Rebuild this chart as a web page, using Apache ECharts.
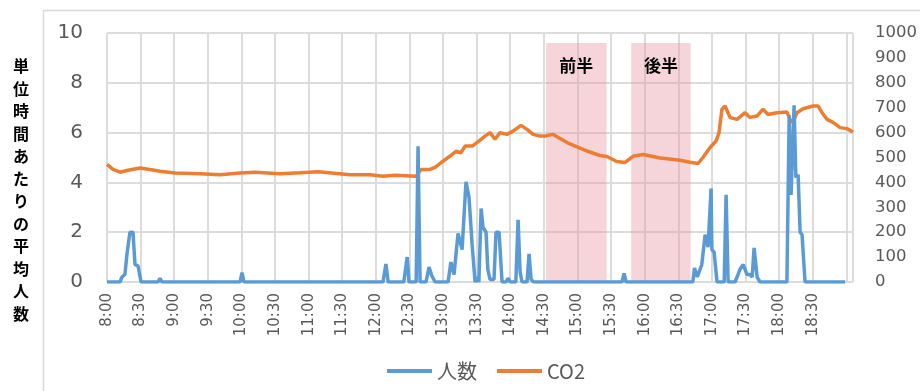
<!DOCTYPE html>
<html>
<head>
<meta charset="utf-8">
<script src="https://cdn.jsdelivr.net/npm/echarts@6/dist/echarts.min.js"></script>
<style>
html,body{margin:0;padding:0;background:#fff;}
#c{width:920px;height:391px;}
</style>
</head>
<body>
<div id="c"></div>
<script>
// Minutes after 8:00
const peopleTimes = [0,11.6,13.4,16,17.9,20.5,23.2,25,27.7,30.4,45.5,47.3,49,118.8,120.5,122.3,246.4,249,251,265,268,269.6,276,277.7,279.5,284.8,287.5,290,292.9,304.5,307,309.8,313.4,317,320.5,323.2,325.9,328.6,330.4,332,334,335.7,338.4,340,342,345.5,347.3,350,352.7,356.3,358,360,365,367,368.8,370.5,375,376.8,378.6,381,459.8,461.6,463.4,523,524.5,527,531,534,536.6,539.3,540,542,544.6,551,552.7,554.5,560.7,562.5,565,568,571.4,574,576,577.7,580.4,583,607,609,610.7,613.4,615,617,618.8,620.5,623.2,659];
const peopleValues = [0,0,0.2,0.3,1.15,2.0,2.0,0.7,0.65,0,0,0.15,0,0,0.38,0,0,0.72,0,0,1.0,0,0,5.45,0,0,0.6,0.25,0,0,0.8,0.3,1.95,1.3,4.02,3.4,1.55,0,0.2,0,2.95,2.2,2.0,0.5,0.1,0.1,2.0,2.0,0,0,0.15,0,0,2.5,0.4,0,0,1.13,0.1,0,0,0.35,0,0,0.56,0.2,0.7,1.9,1.4,3.75,1.3,1.2,0,0,3.5,0,0,0.2,0.5,0.7,0.3,0.3,0.2,1.37,0.2,0,0,6.7,3.5,7.1,4.2,4.3,2.0,1.9,0,0];
const co2Times = [0,5.4,11.6,18.8,29.5,38.4,47.3,60.7,83,100.9,118.8,132,154.5,172.3,188.4,217,234.8,246.4,257,276,280.4,288.4,292.9,300,306,311.6,316,319.7,326,332,337.5,342,346.4,350.9,357,362.5,369.6,375,380.4,386.6,391,398,410.7,428.6,440,446.4,455,462.5,469.6,478.6,493.8,511.6,520.5,527.7,532,538.4,543.8,546.4,549,551.8,556.3,562.5,569.6,574,580.4,585.7,590,598,607,609.8,612.5,616,621.4,630.4,634.8,638.4,642.9,648.2,654.5,660.7,666];
const co2Values = [472,452,441,449,458,452,445,438,435,431,438,441,435,439,443,431,431,425,429,425,452,452,460,485,505,525,519,546,546,566,586,600,573,600,593,606,629,613,593,586,586,593,560,526,508,504,484,480,505,512,498,489,481,476,500,540,566,600,694,707,660,653,680,661,667,694,673,680,683,653,641,680,696,707,707,680,653,641,620,616,602];
const xTickLabels = ['8:00','8:30','9:00','9:30','10:00','10:30','11:00','11:30','12:00','12:30','13:00','13:30','14:00','14:30','15:00','15:30','16:00','16:30','17:00','17:30','18:00','18:30'];
const seriesNames = ['人数','CO2'];
const periodNames = ['前半','後半'];
const periodStarts = [392,468];
const periodEnds = [446,521];
const periodTop = 9.6;
const yAxisTitle = '単位時間あたりの平均人数';

const chart = echarts.init(document.getElementById('c'));
const peopleData = peopleTimes.map((t,i)=>[t,peopleValues[i]]);
const co2Data = co2Times.map((t,i)=>[t,co2Values[i]]);
const areas = periodNames.map((n,i)=>[{name:n,xAxis:periodStarts[i],yAxis:0},{xAxis:periodEnds[i],yAxis:periodTop}]);

const gridColor = '#dcdcdc';
chart.setOption({
  animation:false,
  backgroundColor:'#fff',
  grid:{left:107,right:67,top:33,bottom:109,containLabel:false},
  graphic:[
    {type:'rect',shape:{x:43.5,y:10.5,width:900,height:400},style:{fill:null,stroke:'#d9d9d9',lineWidth:1.5},z:-1},
    {type:'text',x:21,y:55,style:{text:yAxisTitle.split('').join('\n'),font:'bold 16px "Noto Sans CJK JP"',fill:'#000',textAlign:'center',lineHeight:22.5}}
  ],
  legend:{
    data:seriesNames,left:387,top:361,icon:'rect',itemWidth:45,itemHeight:4,itemGap:20,padding:0,
    textStyle:{fontSize:20,color:'#595959',fontFamily:'"Noto Sans CJK JP","DejaVu Sans"'}
  },
  xAxis:{
    type:'value',min:0,max:666,interval:30,
    axisLine:{show:false},axisTick:{show:false},
    splitLine:{show:true,lineStyle:{color:gridColor,width:2}},
    axisLabel:{rotate:90,fontSize:15,color:'#595959',fontFamily:'DejaVu Sans',margin:11,
      showMaxLabel:false,
      formatter:function(v){const i=Math.round(v/30);return (Math.abs(v-i*30)<0.01 && i<xTickLabels.length)?xTickLabels[i]:'';}}
  },
  yAxis:[
    {type:'value',min:0,max:10,interval:2,axisLine:{show:false},axisTick:{show:false},
     splitLine:{show:true,lineStyle:{color:gridColor,width:2}},
     axisLabel:{fontSize:20,color:'#595959',fontFamily:'DejaVu Sans',margin:24,formatter:function(v){return String(v);}}},
    {type:'value',min:0,max:1000,interval:100,axisLine:{show:false},axisTick:{show:false},
     splitLine:{show:false},
     axisLabel:{fontSize:16.5,color:'#595959',fontFamily:'DejaVu Sans',margin:22,formatter:function(v){return String(v);}}}
  ],
  series:[
    {name:'areas',type:'line',data:[],z:1,silent:true,
     markArea:{silent:true,itemStyle:{color:'rgba(230,150,160,0.4)'},
       label:{show:true,position:'insideTop',distance:14,fontSize:17,fontWeight:'bold',color:'#000',fontFamily:'"Noto Sans CJK JP"'},
       data:areas}},
    {name:seriesNames[0],type:'line',yAxisIndex:0,data:peopleData,showSymbol:false,z:4,
     lineStyle:{color:'#5b9bd5',width:3.5},itemStyle:{color:'#5b9bd5'}},
    {name:seriesNames[1],type:'line',yAxisIndex:1,data:co2Data,showSymbol:false,z:3,
     lineStyle:{color:'#ed7d31',width:3.5},itemStyle:{color:'#ed7d31'}}
  ]
});
</script>
</body>
</html>
